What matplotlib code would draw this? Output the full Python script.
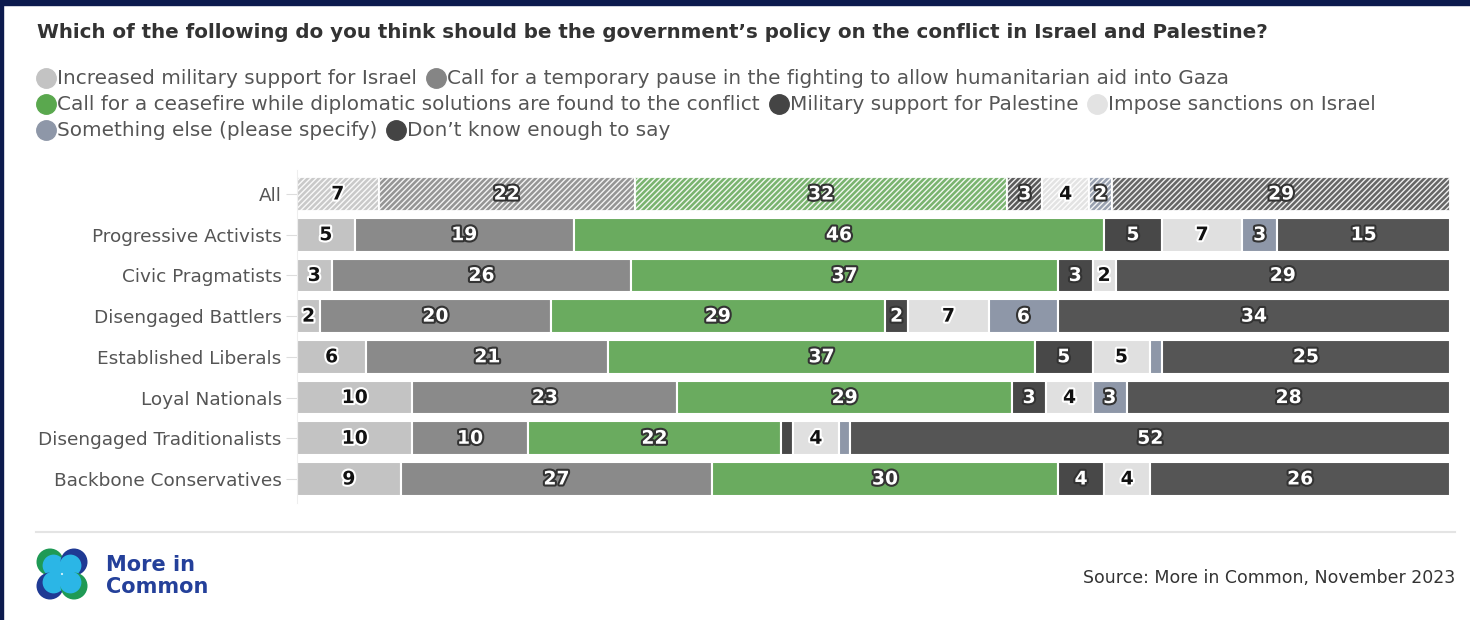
import matplotlib
matplotlib.use("Agg")
import matplotlib.pyplot as plt
import matplotlib.patheffects as pe
from matplotlib.patches import Circle, Rectangle
from matplotlib.lines import Line2D

# --- Data ---
groups = ["All", "Progressive Activists", "Civic Pragmatists", "Disengaged Battlers",
          "Established Liberals", "Loyal Nationals", "Disengaged Traditionalists",
          "Backbone Conservatives"]
options = ["Increased military support for Israel",
           "Call for a temporary pause in the fighting to allow humanitarian aid into Gaza",
           "Call for a ceasefire while diplomatic solutions are found to the conflict",
           "Military support for Palestine",
           "Impose sanctions on Israel",
           "Something else (please specify)",
           "Don\u2019t know enough to say"]
israel_mil = [7, 5, 3, 2, 6, 10, 10, 9]
pause = [22, 19, 26, 20, 21, 23, 10, 27]
ceasefire = [32, 46, 37, 29, 37, 29, 22, 30]
palestine_mil = [3, 5, 3, 2, 5, 3, 1, 4]
sanctions = [4, 7, 2, 7, 5, 4, 4, 4]
something_else = [2, 3, 0, 6, 1, 3, 1, 0]
dont_know = [29, 15, 29, 34, 25, 28, 52, 26]

series = [israel_mil, pause, ceasefire, palestine_mil, sanctions, something_else, dont_know]
colors = ["#c3c3c3", "#8a8a8a", "#6aab5f", "#484848", "#e0e0e0", "#8e97a8", "#555555"]
legend_colors = ["#c3c3c3", "#858585", "#5aa84e", "#444444", "#e3e3e3", "#8e97a8", "#444444"]
white_text = [False, True, True, True, False, True, True]

plt.rcParams["hatch.linewidth"] = 1.0

W, H = 1470, 620
fig = plt.figure(figsize=(W / 100, H / 100), dpi=100)
fig.patch.set_facecolor("white")

# background layer in pixel coords
bg = fig.add_axes([0, 0, 1, 1], zorder=-1)
bg.set_xlim(0, W)
bg.set_ylim(H, 0)
bg.axis("off")
bg.add_patch(Rectangle((0, 0), W, 5, color="#0c1a4e"))
bg.add_patch(Rectangle((0, 0), 3, H, color="#0c1a4e"))
bg.plot([36, 1455], [532, 532], color="#e4e4e4", lw=1.5)

# logo
cx, cy = 62, 574
outer = [(-12, -12, "#1f9a55"), (12, -12, "#1f3a94"), (-12, 12, "#1f3a94"), (12, 12, "#1f9a55")]
for dx, dy, col in outer:
    bg.add_patch(Circle((cx + dx, cy + dy), 13.5, color=col, lw=0))
    bg.add_patch(Circle((cx + dx * 0.7, cy + dy * 0.7), 11, color="#2bb6e6", lw=0))
bg.text(106, 565, "More in", fontsize=15, fontweight="bold", color="#24409a", va="center")
bg.text(106, 587, "Common", fontsize=15, fontweight="bold", color="#24409a", va="center")
bg.text(1455, 578, "Source: More in Common, November 2023", fontsize=12.5, color="#333333",
        ha="right", va="center")

# title
bg.text(37, 32, "Which of the following do you think should be the government\u2019s policy on the conflict in Israel and Palestine?",
        fontsize=14.3, fontweight="bold", color="#333333", va="center")

# legend, flowing rows
fig.canvas.draw()
renderer = fig.canvas.get_renderer()
rows = [[0, 1], [2, 3, 4], [5, 6]]
for r, idxs in enumerate(rows):
    x = 37
    y = 78 + r * 26
    for i in idxs:
        bg.add_line(Line2D([x + 9], [y], marker="o", markersize=14, color=legend_colors[i], lw=0))
        t = bg.text(x + 20, y, options[i], fontsize=14.4, color="#555555", va="center")
        w = t.get_window_extent(renderer).width
        x = x + 20 + w + 10

# --- bars (each row drawn as 100% stacked) ---
ax = fig.add_axes([297 / W, (H - 503) / H, (1450 - 297) / W, 333 / H])
ypos = list(range(len(groups)))
totals = [sum(s[j] for s in series) for j in ypos]
left = [0.0] * len(groups)
for k, vals in enumerate(series):
    for j, v in enumerate(vals):
        if v == 0:
            continue
        w = v / totals[j] * 100
        if j == 0:
            ax.barh(j, w, left=left[j], height=0.83, color=colors[k], edgecolor="white",
                    linewidth=1.5, hatch="//////", alpha=0.9)
        else:
            ax.barh(j, w, left=left[j], height=0.83, color=colors[k], edgecolor="white",
                    linewidth=1.5)
        if v >= 2:
            if white_text[k]:
                fc, sc = "white", "#333333"
            else:
                fc, sc = "#111111", "white"
            ax.text(left[j] + w / 2, j, str(v), ha="center", va="center", fontsize=13.5,
                    fontweight="bold", color=fc,
                    path_effects=[pe.withStroke(linewidth=3, foreground=sc)])
        left[j] += w

ax.set_xlim(0, 100)
ax.set_ylim(7.59, -0.59)
ax.set_yticks(ypos)
ax.set_yticklabels(groups, fontsize=13.3, color="#555555")
ax.tick_params(axis="y", length=8, color="#dddddd", pad=3)
ax.set_xticks([])
for s in ["top", "right", "bottom"]:
    ax.spines[s].set_visible(False)
ax.spines["left"].set_color("#eeeeee")

fig.savefig("out.png", dpi=100, facecolor="white")
